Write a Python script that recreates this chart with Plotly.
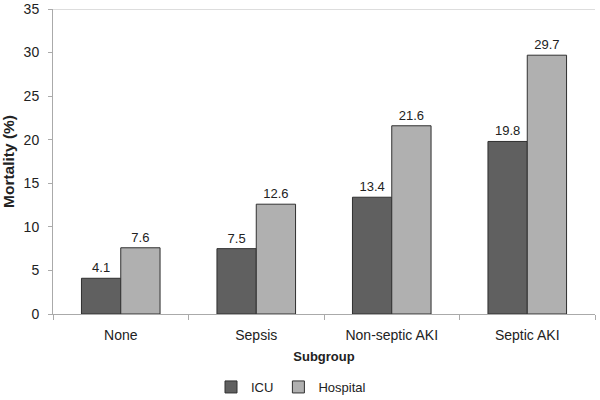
import plotly.graph_objects as go

categories = ["None", "Sepsis", "Non-septic AKI", "Septic AKI"]
icu = [4.1, 7.5, 13.4, 19.8]
hospital = [7.6, 12.6, 21.6, 29.7]
y_ticks = [0, 5, 10, 15, 20, 25, 30, 35]

font = "Liberation Sans, Arial, sans-serif"

fig = go.Figure()
fig.add_trace(go.Bar(
    name="ICU", x=categories, y=icu,
    marker=dict(color="#606060", line=dict(color="#303030", width=1)),
    text=[f"{v:.1f}" for v in icu], textposition="outside",
    textfont=dict(size=13, color="#222222", family=font), cliponaxis=False,
))
fig.add_trace(go.Bar(
    name="Hospital", x=categories, y=hospital,
    marker=dict(color="#B0B0B0", line=dict(color="#303030", width=1)),
    text=[f"{v:.1f}" for v in hospital], textposition="outside",
    textfont=dict(size=13, color="#222222", family=font), cliponaxis=False,
))

fig.update_layout(
    width=600, height=400,
    margin=dict(l=53, r=5, t=9, b=86, autoexpand=False),
    paper_bgcolor="white", plot_bgcolor="white",
    barmode="group", bargap=0.42, bargroupgap=0,
    font=dict(family=font, size=14, color="#222222"),
    showlegend=True,
    legend=dict(orientation="h", xref="container", yref="container",
                x=0.485, xanchor="center", y=0.0325, yanchor="middle",
                font=dict(size=13, family=font), itemwidth=30, traceorder="normal"),
    xaxis=dict(
        automargin=False,
        showline=True, linecolor="#AAAAAA", linewidth=1,
        ticks="outside", tickson="boundaries", ticklen=5, tickcolor="#AAAAAA",
        ticklabelstandoff=8,
        tickfont=dict(size=14), showgrid=False,
        title=dict(text="<b>Subgroup</b>", font=dict(size=13), standoff=10),
    ),
    yaxis=dict(
        automargin=False,
        range=[0, 35], tickvals=y_ticks, showline=True, linecolor="#AAAAAA",
        linewidth=1, ticks="outside", ticklen=4, tickcolor="#AAAAAA",
        ticklabelstandoff=6,
        showgrid=False, zeroline=False, tickfont=dict(size=14),
        title=dict(text="<b>Mortality (%)</b>", font=dict(size=15.5), standoff=11),
    ),
    shapes=[dict(type="line", xref="paper", yref="y", x0=0, x1=1, y0=35, y1=35,
                 line=dict(color="#BBBBBB", width=1))],
)

fig.write_html("out.html", config={"displayModeBar": False},
               post_script="document.body.style.margin='0';")
